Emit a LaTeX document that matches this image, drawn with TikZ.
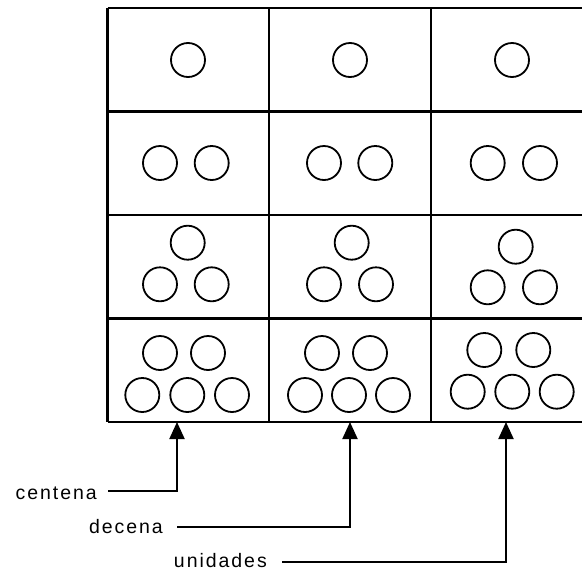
\documentclass[tikz,border=0pt]{standalone}
\usepackage{fontspec}
\setmainfont{Liberation Sans}[LetterSpace=10]
\usetikzlibrary{arrows.meta}
\begin{document}
\begin{tikzpicture}[x=1pt,y=-1pt,
  gridline/.style={line width=2.2pt},
  ball/.style={line width=1.8pt},
  arr/.style={line width=2pt,-{Triangle[length=17pt,width=15pt]}},
  lbl/.style={font=\fontsize{19.5}{19.5}\selectfont,inner sep=0pt,anchor=base east}]
\useasboundingbox (0,0) rectangle (582,571);
% grid
\foreach \y in {8,111.5,215,318.5,422}
  \draw[gridline] (107.5,\y) -- (600,\y);
\foreach \x in {107.5,269,431,592}
  \draw[gridline] (\x,8) -- (\x,422);
% row 1
\foreach \p in {(188,60),(350,60),(512,60)}
  \draw[ball] \p circle (17);
% row 2
\foreach \p in {(160,163),(211.7,163),(324,163),(375.3,163),(487.7,163),(540,163)}
  \draw[ball] \p circle (17);
% row 3
\foreach \p in {(187.7,242.7),(160,284.3),(211.7,284.3),
                (351.7,242.7),(324,284.3),(376,284.3),
                (515.7,246.7),(487.7,287.3),(540,287.3)}
  \draw[ball] \p circle (17);
% row 4
\foreach \p in {(160,353),(208,353),(142.3,395),(187.3,395),(232,395),
                (322,353),(370,353),(305,395),(349,395),(393,395),
                (484.3,350),(533.3,350),(467.7,391.7),(512.3,391.7),(556.7,391.7)}
  \draw[ball] \p circle (17);
% labels
\node[lbl] (cen) at (97,499) {centena};
\node[lbl] (dec) at (163,533.5) {decena};
\node[lbl] (uni) at (267,567) {unidades};
\coordinate (cs) at (108,491);
\coordinate (ds) at (177,527.3);
\coordinate (us) at (282,561.7);
\coordinate (ct) at (177,422);
\coordinate (dt) at (350,422);
\coordinate (ut) at (506,422);
\draw[arr] (cs) -| (ct);
\draw[arr] (ds) -| (dt);
\draw[arr] (us) -| (ut);
\end{tikzpicture}
\end{document}
